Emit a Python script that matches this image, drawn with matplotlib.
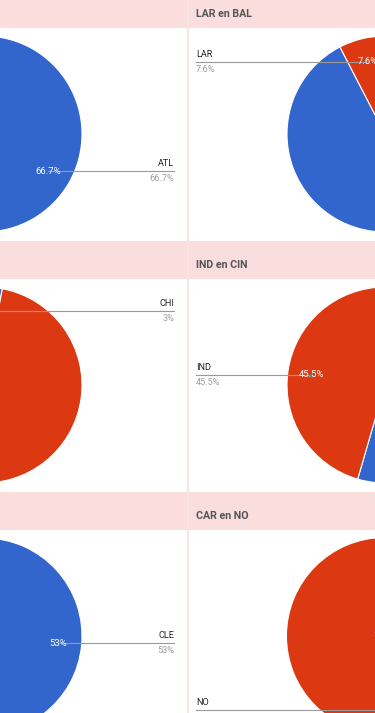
import matplotlib
matplotlib.use("Agg")
import matplotlib.pyplot as plt
import numpy as np
from matplotlib.patches import Rectangle

plt.rcParams['font.family'] = ['Roboto', 'DejaVu Sans']

# ---- data ----
titles = ['LAR en BAL', 'IND en CIN', 'CAR en NO']

left_labels = [['ATL', 'OTR'], ['CHI', 'OTR'], ['CLE', 'OTR']]
left_values = [[66.7, 33.3], [3.0, 97.0], [53.0, 47.0]]
left_shown = [0, 0, 0]          # slice whose label is visible

right_labels = [['BAL', 'LAR'], ['CIN', 'IND'], ['CAR', 'NO']]
right_values = [[92.4, 7.6], [54.5, 45.5], [0.0, 100.0]]
right_shown = [1, 1, 1]

colors = ['#3366cc', '#dc3912']

# ---- layout (pixels) ----
W, H = 375, 713
row_pitch = 251
band_top0, band_bot0 = -10, 28
cy0 = 134
R = 98
cx_left, cx_right = -16, 385
divider_x = 187.5
lab_left_x, lab_right_x = 174, 196
lab_r = 0.76

fig = plt.figure(figsize=(W / 100, H / 100), dpi=100)
ax = fig.add_axes([0, 0, 1, 1])
ax.set_facecolor('white')

def fmt(v):
    s = ('%.1f' % v).rstrip('0').rstrip('.')
    return s + '%'

for i in range(3):
    off = i * row_pitch
    bt, bb = band_top0 + off, band_bot0 + off
    ax.add_patch(Rectangle((0, bt), W, bb - bt, facecolor='#f9dedd',
                           edgecolor='none', zorder=1))
    ax.text(196, bb - 14, titles[i], ha='left', va='center', fontsize=7.7,
            fontweight='bold', color='#555555', zorder=5)
    cy = cy0 + off

    for side in ('left', 'right'):
        if side == 'left':
            vals, labs, shown, cx = left_values[i], left_labels[i], left_shown[i], cx_left
        else:
            vals, labs, shown, cx = right_values[i], right_labels[i], right_shown[i], cx_right
        nonzero = [v for v in vals if v > 0]
        wedges, _ = ax.pie(vals, colors=colors, startangle=-90, counterclock=True,
                           radius=R, center=(cx, cy), frame=True,
                           wedgeprops=dict(edgecolor='white',
                                           linewidth=0.8 if len(nonzero) > 1 else 0))
        for w in wedges:
            w.set_zorder(2)
        w = wedges[shown]
        mid = np.deg2rad((w.theta1 + w.theta2) / 2)
        px = cx + lab_r * R * np.cos(mid)
        py = cy + lab_r * R * np.sin(mid)
        if side == 'left':
            ax.plot([px, lab_left_x], [py, py], color='#9a9a9a', lw=0.8, zorder=3)
            ax.text(lab_left_x, py - 7.5, labs[shown], ha='right', va='center',
                    fontsize=6.6, color='#222222', zorder=5)
            ax.text(lab_left_x, py + 7.5, fmt(vals[shown]), ha='right', va='center',
                    fontsize=6.6, color='#9e9e9e', zorder=5)
        else:
            ax.plot([lab_right_x, px], [py, py], color='#9a9a9a', lw=0.8, zorder=3)
            ax.plot([px], [py], 'o', color='#777777', ms=1.8, zorder=3)
            ax.text(lab_right_x, py - 7.5, labs[shown], ha='left', va='center',
                    fontsize=6.6, color='#222222', zorder=5)
            ax.text(lab_right_x, py + 7.5, fmt(vals[shown]), ha='left', va='center',
                    fontsize=6.6, color='#9e9e9e', zorder=5)
        # a single full slice carries its text at the pie centre
        tx, ty = (cx, cy) if len(nonzero) == 1 else (px, py)
        ax.text(tx, ty, fmt(vals[shown]), ha='center', va='center', fontsize=6.8,
                color='white', zorder=6)

ax.axvline(divider_x, color='#f9e4e4', lw=1.5, zorder=1.5)

ax.set_xlim(0, W)
ax.set_ylim(H, 0)
ax.set_aspect('auto')
ax.axis('off')
fig.savefig('out.png', dpi=100, facecolor='white')
